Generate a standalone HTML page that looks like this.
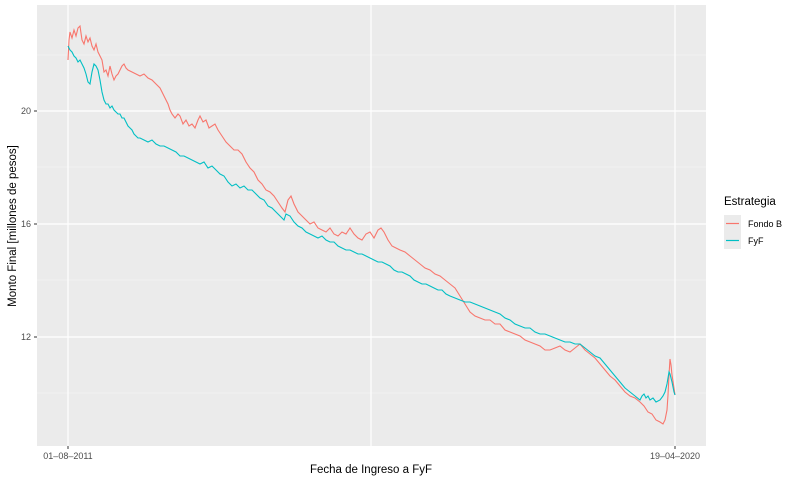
<!DOCTYPE html>
<html><head><meta charset="utf-8"><style>
html,body{margin:0;padding:0;background:#fff;width:800px;height:480px;overflow:hidden}
svg text{font-family:"Liberation Sans",sans-serif}
</style></head><body>
<svg width="800" height="480" viewBox="0 0 800 480">
<rect x="37" y="5" width="669" height="441" fill="#ebebeb"/>
<g stroke="#f5f5f5" stroke-width="0.6">
<line x1="37" x2="706" y1="55" y2="55"/><line x1="37" x2="706" y1="167" y2="167"/>
<line x1="37" x2="706" y1="280" y2="280"/><line x1="37" x2="706" y1="393" y2="393"/>
</g>
<g stroke="#fff" stroke-width="1.2">
<line x1="37" x2="706" y1="111" y2="111"/><line x1="37" x2="706" y1="224" y2="224"/>
<line x1="37" x2="706" y1="337" y2="337"/>
<line x1="68" x2="68" y1="5" y2="446"/><line x1="371" x2="371" y1="5" y2="446"/><line x1="675" x2="675" y1="5" y2="446"/>
</g>
<polyline fill="none" stroke="#f8766d" stroke-width="1.1" points="68,60 69,40 70,32 72,38 74,30 76,36 78,28 80,26 82,40 84,44 86,36 88,42 90,38 92,46 94,50 96,44 98,52 100,56 102,60 104,72 106,70 108,76 110,66 112,74 114,80 116,76 118,74 120,70 122,66 124,64 126,68 128,70 132,72 136,74 140,76 144,74 148,78 152,80 156,84 160,88 164,96 168,104 170,110 172,114 175,118 178,114 180,116 183,124 186,120 189,126 192,124 195,128 198,120 200,116 203,122 206,120 209,128 212,126 215,124 218,130 222,136 226,142 230,146 234,150 238,150 242,154 246,162 250,168 254,172 258,180 262,184 266,190 270,192 274,196 278,202 282,208 285,212 288,200 291,196 294,204 298,212 302,216 306,220 310,224 314,222 318,228 322,230 326,232 330,228 334,234 338,236 342,232 346,234 350,228 354,234 358,238 362,240 366,234 370,232 374,238 378,230 381,228 384,232 388,240 392,246 396,248 400,250 405,252 410,256 415,260 420,264 425,268 430,270 435,274 440,276 445,280 450,284 455,288 460,296 465,304 470,312 475,316 480,318 485,320 490,320 495,324 500,324 505,330 510,332 515,334 520,336 525,340 530,342 535,344 540,346 545,350 550,350 555,348 560,346 565,350 570,352 575,348 580,344 585,350 590,354 595,358 600,364 605,370 610,376 615,380 620,386 625,392 630,396 635,398 640,402 644,406 648,412 652,414 656,420 660,422 663,424 665,420 667,410 668,395 669,375 670,359 671,365 672,375 674,388 675,395"/>
<polyline fill="none" stroke="#00bfc4" stroke-width="1.1" points="68,46 70,50 72,52 74,56 76,58 78,62 80,60 82,64 84,68 86,74 88,82 90,84 92,72 94,64 96,66 98,70 100,80 102,92 104,100 106,104 108,104 110,108 112,106 114,110 116,112 118,114 120,114 122,118 124,118 126,122 128,126 130,128 132,130 134,134 136,136 138,138 140,138 144,140 148,142 152,140 156,144 160,146 164,146 168,148 172,150 176,152 180,156 184,156 188,158 192,160 196,162 200,164 204,162 208,168 212,166 216,170 220,174 224,176 228,182 232,186 236,184 240,188 244,186 248,190 252,190 256,194 260,198 264,200 268,206 272,208 276,212 280,216 284,220 286,214 290,216 294,222 298,226 302,228 306,232 310,234 314,236 318,238 322,236 326,240 330,242 334,242 338,246 342,248 346,250 350,250 354,252 358,254 362,254 366,256 370,258 374,260 378,262 382,262 386,264 390,266 394,270 398,272 402,272 406,274 410,276 414,280 418,282 422,284 426,284 430,286 434,288 438,290 442,290 446,294 450,296 455,298 460,300 465,302 470,302 475,304 480,306 485,308 490,310 495,312 500,314 505,318 510,320 515,324 520,326 525,328 530,328 535,332 540,334 545,334 550,336 555,338 560,340 565,342 570,342 575,344 580,344 585,348 590,352 595,356 600,358 605,364 610,370 615,376 620,382 625,388 630,392 635,396 640,400 642,396 644,394 646,398 648,396 650,400 653,398 656,402 660,400 663,396 665,392 667,384 669,372 670,374 672,382 674,392 675,395"/>
<g stroke="#333" stroke-width="1"><line x1="34" x2="37" y1="111" y2="111"/><line x1="34" x2="37" y1="224" y2="224"/><line x1="34" x2="37" y1="337" y2="337"/>
<line x1="68" x2="68" y1="446" y2="449"/><line x1="675" x2="675" y1="446" y2="449"/></g>
<g font-size="9" fill="#4d4d4d" text-anchor="end"><text x="31" y="114">20</text><text x="31" y="227">16</text><text x="31" y="340">12</text></g>
<g font-size="9" fill="#4d4d4d" text-anchor="middle"><text x="68" y="459">01–08–2011</text><text x="675" y="459">19–04–2020</text></g>
<text x="371" y="473" font-size="11.5" text-anchor="middle" fill="#000">Fecha de Ingreso a FyF</text>
<text transform="translate(16,226) rotate(-90)" font-size="11.5" text-anchor="middle" fill="#000">Monto Final [millones de pesos]</text>
<text x="724" y="205" font-size="11.5" fill="#000">Estrategia</text>
<rect x="724" y="215" width="17" height="17" fill="#ebebeb"/><line x1="726" x2="739" y1="223.5" y2="223.5" stroke="#f8766d" stroke-width="1.2"/>
<rect x="724" y="232" width="17" height="17" fill="#ebebeb"/><line x1="726" x2="739" y1="240.5" y2="240.5" stroke="#00bfc4" stroke-width="1.2"/>
<g font-size="9" fill="#000"><text x="748" y="227">Fondo B</text><text x="748" y="244">FyF</text></g>
</svg>
</body></html>
